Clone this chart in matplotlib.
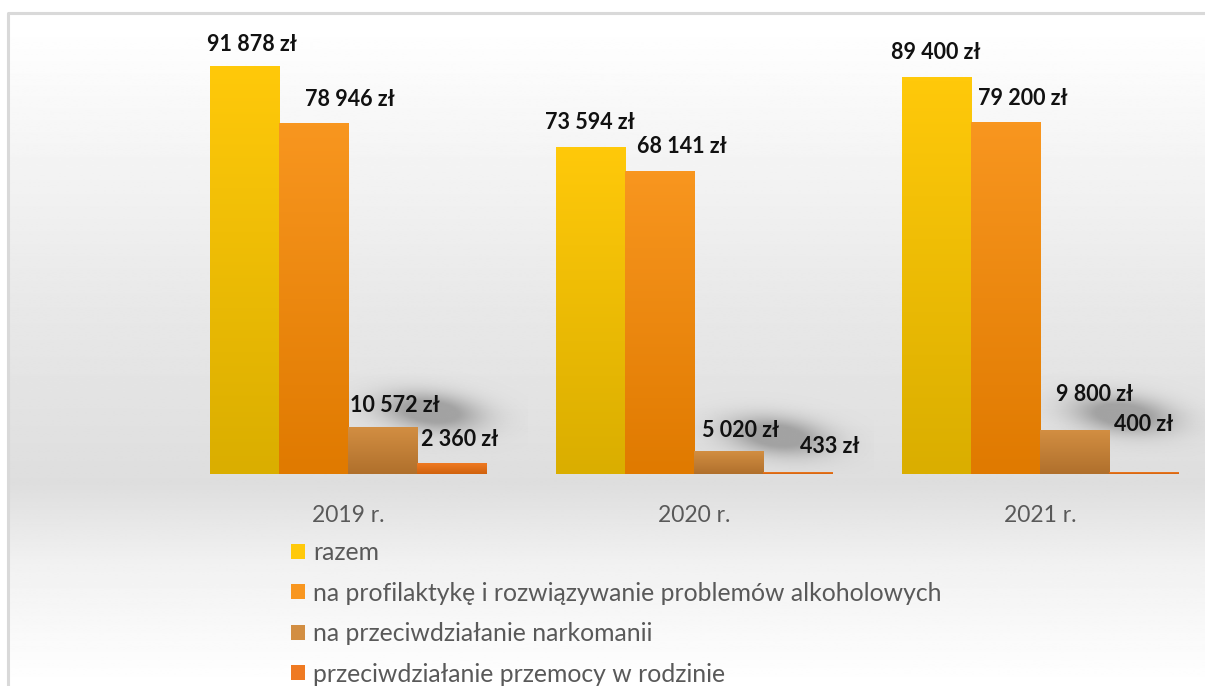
import numpy as np
import matplotlib
matplotlib.use("Agg")
import matplotlib.pyplot as plt
from matplotlib.patches import Rectangle
from matplotlib.colors import LinearSegmentedColormap

plt.rcParams['font.family'] = ['Lato', 'DejaVu Sans']

categories = ["2019 r.", "2020 r.", "2021 r."]
series_names = ["razem",
                "na profilaktykę i rozwiązywanie problemów alkoholowych",
                "na przeciwdziałanie narkomanii",
                "przeciwdziałanie przemocy w rodzinie"]
values = [
    [91878, 73594, 89400],
    [78946, 68141, 79200],
    [10572, 5020, 9800],
    [2360, 433, 400],
]
value_labels = [
    ["91 878 zł", "73 594 zł", "89 400 zł"],
    ["78 946 zł", "68 141 zł", "79 200 zł"],
    ["10 572 zł", "5 020 zł", "9 800 zł"],
    ["2 360 zł", "433 zł", "400 zł"],
]

# style: (top colour, bottom colour)
grad_colors = [("#FFC90A", "#DAAE00"),
               ("#F8961F", "#E07A00"),
               ("#D28E42", "#B0702C"),
               ("#EF7A22", "#D0620E")]
# label offsets (px right, px up) per series / category
lab_dx = [[8, 0, 0], [36, 22, 17], [12, 12, 20], [8, 32, 0]]
lab_dy = [[22, 25, 25], [24, 25, 24], [22, 21, 36], [24, 26, 48]]

W, H = 1205, 686
fig = plt.figure(figsize=(W / 100, H / 100), dpi=100)

# background gradient (figure level)
bg = fig.add_axes([0, 0, 1, 1], zorder=0)
bg.set_xlim(0, W); bg.set_ylim(H, 0); bg.axis('off')
ys = np.linspace(0, 1, 400)
stops_y = np.array([0, 13, 120, 300, 480, 560, 686]) / H
stops_v = np.array([1.0, 1.0, 0.965, 0.91, 0.87, 0.945, 1.0])
col = np.interp(ys, stops_y, stops_v)
img = np.repeat(col[:, None], 2, axis=1)
bg.imshow(img, cmap='gray', vmin=0, vmax=1, extent=[8, W + 5, H, 13],
          aspect='auto', interpolation='bilinear', zorder=0)
bg.plot([8, 8, W + 5], [H + 5, 13, 13], color="#d9d9d9", lw=2.2, zorder=1)

ax = fig.add_axes([175 / W, 1 - 474 / H, 1038 / W, 444 / H], zorder=2)
ax.patch.set_alpha(0)
ax.set_xlim(-0.5, 2.5)
ax.set_ylim(0, 100000)
for s in ax.spines.values():
    s.set_visible(False)
ax.set_yticks([])
ax.tick_params(axis='x', length=0, pad=22, labelsize=16.5, labelcolor="#595959")

x = np.arange(len(categories))
bw = 0.2
grad = np.linspace(0, 1, 100)[:, None]
for i, vals in enumerate(values):
    bars = ax.bar(x + (i - 1.5) * bw, vals, bw, color='none', zorder=3)
    cmap = LinearSegmentedColormap.from_list("g%d" % i, [grad_colors[i][1], grad_colors[i][0]])
    for j, b in enumerate(bars):
        x0, y0, w, h = b.get_x(), b.get_y(), b.get_width(), b.get_height()
        ax.imshow(grad, cmap=cmap, extent=[x0, x0 + w, y0, y0 + h], origin='lower',
                  aspect='auto', zorder=3, interpolation='bilinear')
        if i == 2:
            # soft shadow behind the label
            gx = np.linspace(-1, 1, 90)
            gy = np.linspace(-1, 1, 50)
            GX, GY = np.meshgrid(gx, gy)
            a = np.exp(-(((GX + 0.3 * GY + 0.05) ** 2) / 0.42 + (GY + 0.05) ** 2 / 0.30) * 1.6)
            rgba = np.zeros((50, 90, 4))
            rgba[..., :3] = 0.58
            rgba[..., 3] = np.clip(a * 1.1, 0, 0.8)
            ax.imshow(rgba, extent=[x0 - 0.1 * w, x0 + w * 2.6, y0 + h - 6000, y0 + h + 14000],
                      origin='lower', aspect='auto', zorder=2.5, interpolation='bilinear')
        ax.annotate(value_labels[i][j], (x0 + w / 2, y0 + h),
                    xytext=(lab_dx[i][j] * 0.72, lab_dy[i][j] * 0.72),
                    textcoords='offset points', ha='center', va='center',
                    fontsize=15.5, fontweight='bold', color="#111111", zorder=5,
                    annotation_clip=False)
ax.set_xticks(x)
ax.set_xticklabels(categories)

handles = [Rectangle((0, 0), 1, 1, facecolor=grad_colors[i][0], edgecolor='none')
           for i in range(4)]
leg = fig.legend(handles, series_names, loc='upper left',
                 bbox_to_anchor=(291 / W, 1 - 541 / H), frameon=False,
                 fontsize=17.8, labelcolor="#595959", handlelength=0.55,
                 handleheight=0.55, handletextpad=0.35, labelspacing=0.71,
                 borderaxespad=0, borderpad=0)

fig.savefig("out.png", dpi=100)
